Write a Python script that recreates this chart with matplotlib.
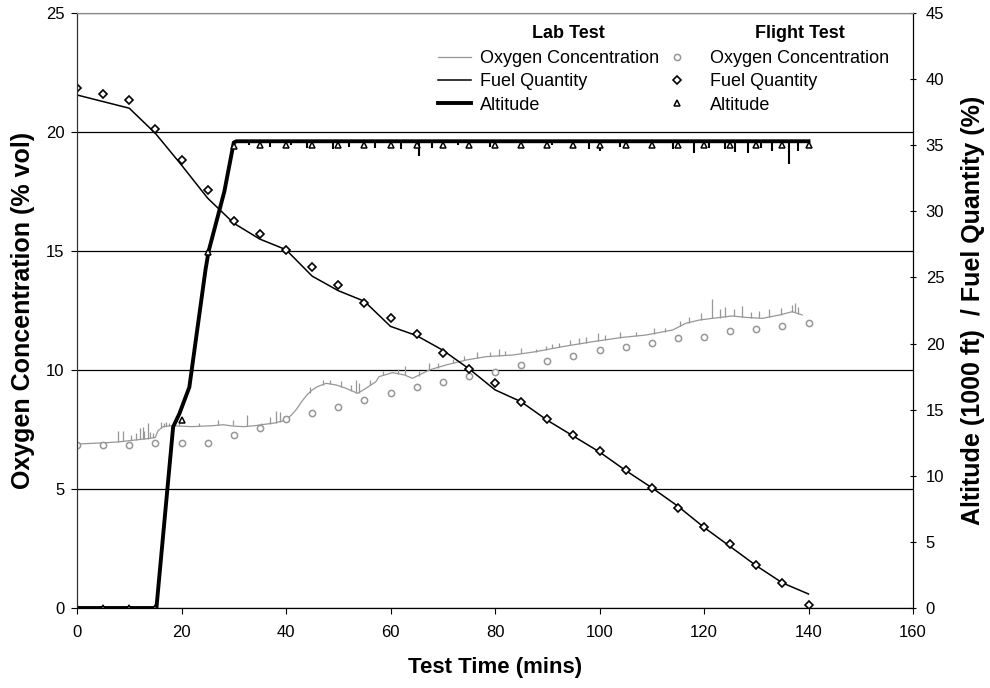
import numpy as np
import matplotlib.pyplot as plt

plt.rcParams['font.family'] = ['Liberation Sans', 'DejaVu Sans']

# ---- flight test, one reading every 5 mins ----
flight_time = [0, 5, 10, 15, 20, 25, 30, 35, 40, 45, 50, 55, 60, 65, 70,
               75, 80, 85, 90, 95, 100, 105, 110, 115, 120, 125, 130, 135, 140]
flight_o2 = [6.85, 6.85, 6.85, 6.95, 6.95, 6.95, 7.27, 7.55, 7.93, 8.18, 8.46, 8.74, 9.02, 9.3, 9.48,
             9.76, 9.93, 10.21, 10.36, 10.59, 10.84, 10.98, 11.12, 11.33, 11.4, 11.64, 11.71, 11.85, 11.96]
flight_fuel = [39.3, 38.9, 38.4, 36.2, 33.9, 31.6, 29.3, 28.3, 27.1, 25.8, 24.4, 23.1, 21.9, 20.7, 19.3,
               18.1, 17.0, 15.6, 14.3, 13.06, 11.88, 10.44, 9.1, 7.59, 6.13, 4.82, 3.28, 1.89, 0.23]
flight_alt = [0, 0, 0, 0, 14.2, 26.9, 34.95, 35, 35, 35, 35, 35, 35, 35, 35,
              35, 35, 35, 35, 35, 35, 35, 35, 35, 35, 35, 35, 35, 35]

# ---- lab test ----
lab_fuel_time = [0, 10, 15, 20, 25, 30, 35, 40, 45, 50, 55, 60, 65, 70, 75, 80, 85, 90,
                 95, 100, 105, 110, 115, 120, 125, 130, 135, 140]
lab_fuel = [38.8, 37.8, 35.9, 33.5, 31.0, 29.1, 27.9, 27.1, 25.1, 24.0, 23.2, 21.3, 20.6, 19.5,
            18.1, 16.5, 15.6, 14.2, 13.0, 11.8, 10.4, 9.1, 7.7, 6.1, 4.65, 3.2, 1.9, 1.06]

lab_alt_time = [0, 15.2, 17.3, 18.4, 19.6, 21.5, 24.6, 25.2, 28.2, 30.0, 30.5, 140]
lab_alt = [0, 0, 9.0, 13.7, 14.7, 16.7, 25.6, 27.0, 31.5, 35.2, 35.3, 35.3]
# short drop-outs in the altitude trace
alt_dip_time = [33, 37, 41, 44, 49, 52, 57, 62, 65.5, 68, 73, 79, 85, 91, 98, 100, 104, 110, 114, 118,
                121, 124, 126, 128.5, 131, 133, 136.3, 138]
alt_dip_low = [35.0, 34.9, 35.0, 34.8, 34.7, 34.9, 34.8, 34.7, 34.2, 34.8, 35.0, 34.9, 34.9, 35.0,
               34.7, 34.6, 34.9, 34.9, 34.7, 34.4, 34.8, 34.7, 34.5, 34.4, 34.8, 34.6, 33.6, 34.6]

lab_o2_time = [0, 3, 6, 8, 10, 12, 14, 15, 15.5, 16.5, 18, 20, 22, 24, 26, 28, 30, 32, 34, 36, 38,
               40, 41, 42, 43, 44, 45, 46, 47.7, 49.6, 51.5, 53.7, 55.3, 57.2, 57.8, 60.4, 62.7, 64.2,
               67.4, 70.6, 74.5, 78.3, 83.4, 87.8, 92.9, 98.7, 104.4, 108.9, 114, 116.5, 119.1, 121.6,
               125.4, 128, 131.2, 134.4, 136.9, 138.8]
lab_o2 = [6.89, 6.92, 6.95, 6.98, 7.03, 7.08, 7.13, 7.17, 7.45, 7.62, 7.66, 7.64, 7.62, 7.64, 7.66,
          7.70, 7.64, 7.62, 7.66, 7.72, 7.78, 7.9, 8.1, 8.35, 8.67, 8.95, 9.16, 9.3, 9.44, 9.37, 9.23,
          9.02, 9.23, 9.51, 9.72, 9.89, 9.79, 9.65, 10.0, 10.21, 10.42, 10.56, 10.63, 10.77, 10.98,
          11.19, 11.37, 11.47, 11.68, 11.96, 12.1, 12.17, 12.27, 12.21, 12.17, 12.31, 12.45, 12.31]
# spikes in the oxygen analyser trace
o2_spike_time = [7.85, 8.8, 10.4, 11.35, 12.0, 12.6, 12.9, 13.6, 13.9, 14.5, 16.1, 16.6, 17.1, 17.7,
                 19.6, 23.4, 26.9, 29.8, 32.5, 35.3, 36.9, 38.1, 38.8, 47.0, 50.5, 53.4, 54.0, 56.0,
                 62.7, 67.3, 76.6, 80.8, 87.8, 89.8, 92.3, 94.4, 97.4, 99.7, 104.0, 110.5, 117.1,
                 121.5, 124.0, 127.3, 130.5, 132.4, 136.9, 137.4,
                 44.5, 48.5, 52.5, 58.5, 61.5, 65.5, 69, 72, 74, 79, 82, 85, 91, 96, 101, 107,
                 112.5, 115.5, 119.5, 123, 125.8, 129, 134.8, 138]
o2_spike_low = [6.98, 7.0, 7.04, 7.06, 7.08, 7.1, 7.11, 7.12, 7.13, 7.15, 7.56, 7.62, 7.64, 7.66,
                7.64, 7.63, 7.67, 7.69, 7.63, 7.69, 7.75, 7.79, 7.83, 9.38, 9.3, 9.05, 9.05, 9.35,
                9.79, 10.0, 10.5, 10.6, 10.77, 10.86, 10.96, 11.03, 11.14, 11.22, 11.36, 11.53, 11.99,
                12.17, 12.23, 12.23, 12.18, 12.22, 12.45, 12.42,
                9.05, 9.42, 9.12, 9.78, 9.85, 9.75, 10.1, 10.28, 10.4, 10.57, 10.62, 10.7, 10.92, 11.1,
                11.27, 11.43, 11.6, 11.85, 12.11, 12.2, 12.26, 12.2, 12.33, 12.37]
o2_spike_high = [7.45, 7.44, 7.27, 7.37, 7.55, 7.62, 7.45, 7.76, 7.41, 7.34, 7.83, 7.76, 7.83, 7.79,
                 7.76, 7.76, 7.9, 7.9, 8.11, 7.79, 8.04, 8.27, 8.25, 9.6, 9.55, 9.6, 9.45, 9.6,
                 10.17, 10.28, 10.75, 10.87, 10.9, 11.0, 11.12, 11.26, 11.4, 11.57, 11.6, 11.75, 12.21,
                 12.98, 12.63, 12.69, 12.49, 12.56, 12.73, 12.83,
                 9.3, 9.6, 9.35, 9.95, 10.05, 9.95, 10.3, 10.45, 10.6, 10.75, 10.8, 10.92, 11.1, 11.35,
                 11.45, 11.6, 11.78, 12.05, 12.4, 12.55, 12.55, 12.45, 12.6, 12.65]

grey = '#979797'

fig = plt.figure(figsize=(9.9, 6.88), dpi=100)
ax = fig.add_axes([77 / 990, 80 / 688, 836 / 990, 595 / 688])
ax2 = ax.twinx()

# left axis: oxygen
l_o2, = ax.plot(lab_o2_time, lab_o2, color=grey, lw=0.9)
ax.vlines(o2_spike_time, o2_spike_low, o2_spike_high, color=grey, lw=0.9)
f_o2, = ax.plot(flight_time, flight_o2, ls='none', marker='o', ms=4.5, mfc='white',
                mec=grey, mew=1.1)

# right axis: altitude + fuel
l_alt, = ax2.plot(lab_alt_time, lab_alt, color='black', lw=2.8, solid_joinstyle='round')
ax2.vlines(alt_dip_time, alt_dip_low, 35.3, color='black', lw=1.5)
l_fuel, = ax2.plot(lab_fuel_time, lab_fuel, color='black', lw=1.1)
f_fuel, = ax2.plot(flight_time, flight_fuel, ls='none', marker='D', ms=4, mfc='white',
                   mec='black', mew=1.2)
f_alt, = ax2.plot(flight_time, flight_alt, ls='none', marker='^', ms=5, mfc='white',
                  mec='black', mew=1.1)

ax.set_xlim(0, 160)
ax.set_ylim(0, 25)
ax2.set_ylim(0, 45)
ax.set_xticks(range(0, 161, 20))
ax.set_yticks(range(0, 26, 5))
ax2.set_yticks(range(0, 46, 5))
ax.yaxis.grid(True, color='black', lw=0.9)
ax.tick_params(axis='x', direction='out', length=4, width=0.8, labelsize=12, pad=8.5)
ax.tick_params(axis='y', direction='out', length=4, width=0.8, labelsize=12, pad=5)
ax2.tick_params(axis='y', direction='inout', length=4.3, width=0.8, labelsize=12, pad=7)

for a in (ax, ax2):
    a.spines['top'].set_color('#8c8c8c')
    a.spines['left'].set_color('#303030')
    a.spines['right'].set_color('black')
    a.spines['bottom'].set_color('black')

ax.set_xlabel('Test Time (mins)', fontsize=16, fontweight='bold', labelpad=12)
ax.set_ylabel('Oxygen Concentration (% vol)', fontsize=18, fontweight='bold', labelpad=8)
ax2.set_ylabel('Altitude (1000 ft)  / Fuel Quantity (%)', fontsize=18, fontweight='bold', labelpad=12)

# legend: two blocks with bold headers
fig.text(568 / 990, 1 - 34 / 688, 'Lab Test', ha='center', va='center', fontsize=13, fontweight='bold')
fig.text(800 / 990, 1 - 34 / 688, 'Flight Test', ha='center', va='center', fontsize=13, fontweight='bold')
lab_leg = ax2.legend([l_o2, l_fuel, l_alt], ['Oxygen Concentration', 'Fuel Quantity', 'Altitude'],
                     loc='upper left', bbox_to_anchor=(429 / 990, 1 - 41 / 688),
                     bbox_transform=fig.transFigure, frameon=False, fontsize=13, borderpad=0,
                     labelspacing=0.35, handlelength=1.8, handletextpad=0.5)
ax2.add_artist(lab_leg)
ax2.legend([f_o2, f_fuel, f_alt], ['Oxygen Concentration', 'Fuel Quantity', 'Altitude'],
           loc='upper left', bbox_to_anchor=(652 / 990, 1 - 41 / 688),
           bbox_transform=fig.transFigure, frameon=False, fontsize=13, borderpad=0,
           labelspacing=0.35, handlelength=1.8, handletextpad=0.9)

fig.savefig('out.png', dpi=100)
